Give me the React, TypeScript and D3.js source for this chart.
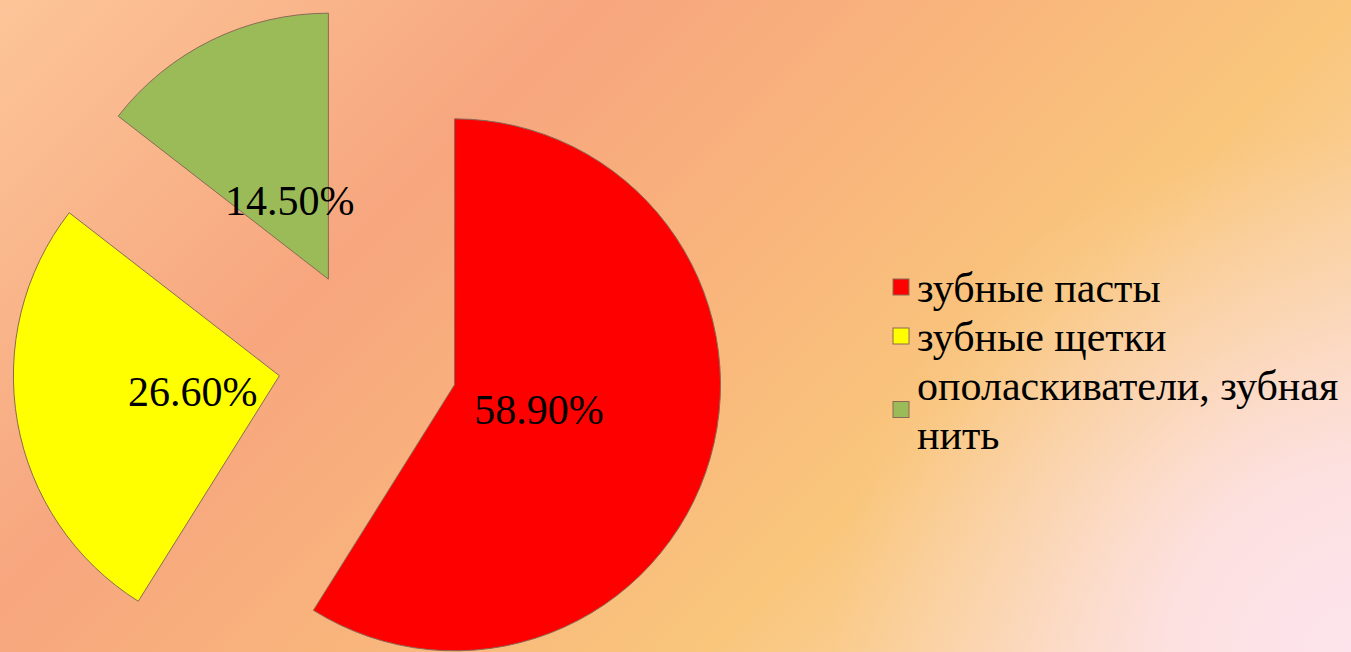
import React from "react";
import * as d3 from "d3";

const categories = ["зубные пасты", "зубные щетки", "ополаскиватели, зубная нить"];
const values = [58.9, 26.6, 14.5];
const labels = ["58.90%", "26.60%", "14.50%"];
const colors = ["#ff0000", "#ffff00", "#9bbb59"];

const W = 1351;
const H = 652;
const FS = 42;

function wrap(s: string, maxChars: number): string[] {
  const words = s.split(" ");
  const lines: string[] = [];
  let cur: string[] = [];
  words.forEach((w) => {
    const test = [...cur, w].join(" ");
    if (cur.length && test.length > maxChars) {
      lines.push(cur.join(" "));
      cur = [w];
    } else cur.push(w);
  });
  if (cur.length) lines.push(cur.join(" "));
  return lines;
}

export default function App() {
  const cx = 368;
  const cy = 360;
  const r = 266;
  const explode = 90;
  const labelR = 88;

  const pie = d3.pie<number>().sort(null).value((d) => d).startAngle(0);
  const arcs = pie(values);
  const arc = d3.arc<d3.PieArcDatum<number>>().innerRadius(0).outerRadius(r);
  const labelArc = d3.arc<d3.PieArcDatum<number>>().innerRadius(labelR).outerRadius(labelR);

  const bgStops: [number, string][] = [
    [0, "#fcc598"],
    [0.3, "#f7a67e"],
    [0.5, "#f9b57c"],
    [0.68, "#f9c67c"],
    [0.8, "#fad09a"],
    [1, "#fce0dc"],
  ];

  const lx = 893;
  const tx = 917;
  const lineH = 49;
  let y = 302;
  const legendItems = categories.map((cat, i) => {
    const lines = wrap(cat, 22);
    const item = { lines, y, color: colors[i] };
    y += lines.length * lineH;
    return item;
  });

  return (
    <svg width={W} height={H} style={{ position: "absolute", left: 0, top: 0 }}>
      <defs>
        <linearGradient id="bg" gradientUnits="userSpaceOnUse" x1={0} y1={0} x2={1000} y2={1000}>
          {bgStops.map(([o, c]) => (
            <stop key={o} offset={o} stopColor={c} />
          ))}
        </linearGradient>
        <radialGradient id="glow" gradientUnits="userSpaceOnUse" cx={1351} cy={652} r={520}>
          <stop offset={0} stopColor="#fde4ec" stopOpacity={1} />
          <stop offset={0.35} stopColor="#fde2e6" stopOpacity={0.85} />
          <stop offset={1} stopColor="#fbd8c0" stopOpacity={0} />
        </radialGradient>
      </defs>
      <rect width={W} height={H} fill="url(#bg)" />
      <rect width={W} height={H} fill="url(#glow)" />
      <g transform={`translate(${cx},${cy})`}>
        {arcs.map((d, i) => {
          const a = (d.startAngle + d.endAngle) / 2;
          const dx = Math.sin(a) * explode;
          const dy = -Math.cos(a) * explode;
          return (
            <path
              key={i}
              transform={`translate(${dx},${dy})`}
              d={arc(d) || ""}
              fill={colors[i]}
              stroke="#8a6a55"
              strokeWidth={1}
            />
          );
        })}
      </g>
      {arcs.map((d, i) => {
        const a = (d.startAngle + d.endAngle) / 2;
        const [lx2, ly2] = labelArc.centroid(d);
        const x = cx + Math.sin(a) * explode + lx2;
        const yy = cy - Math.cos(a) * explode + ly2 + FS * 0.35;
        return (
          <text key={"l" + i} x={x} y={yy} textAnchor="middle" style={{ fontFamily: "serif", fontSize: `${FS}px` }}>
            {labels[i]}
          </text>
        );
      })}
      {legendItems.map((it, i) => {
        const mid = it.y - 15 + ((it.lines.length - 1) * lineH) / 2;
        return (
          <rect
            key={"r" + i}
            x={lx}
            y={mid - 8}
            width={16}
            height={16}
            fill={it.color}
            stroke="#8a6a55"
            strokeWidth={1}
          />
        );
      })}
      {legendItems.map((it, i) =>
        it.lines.map((ln, j) => (
          <text
            key={"t" + i + "_" + j}
            x={tx}
            y={it.y + j * lineH}
            style={{ fontFamily: "Times New Roman", fontSize: `${FS}px` }}
          >
            {ln}
          </text>
        ))
      )}
    </svg>
  );
}
